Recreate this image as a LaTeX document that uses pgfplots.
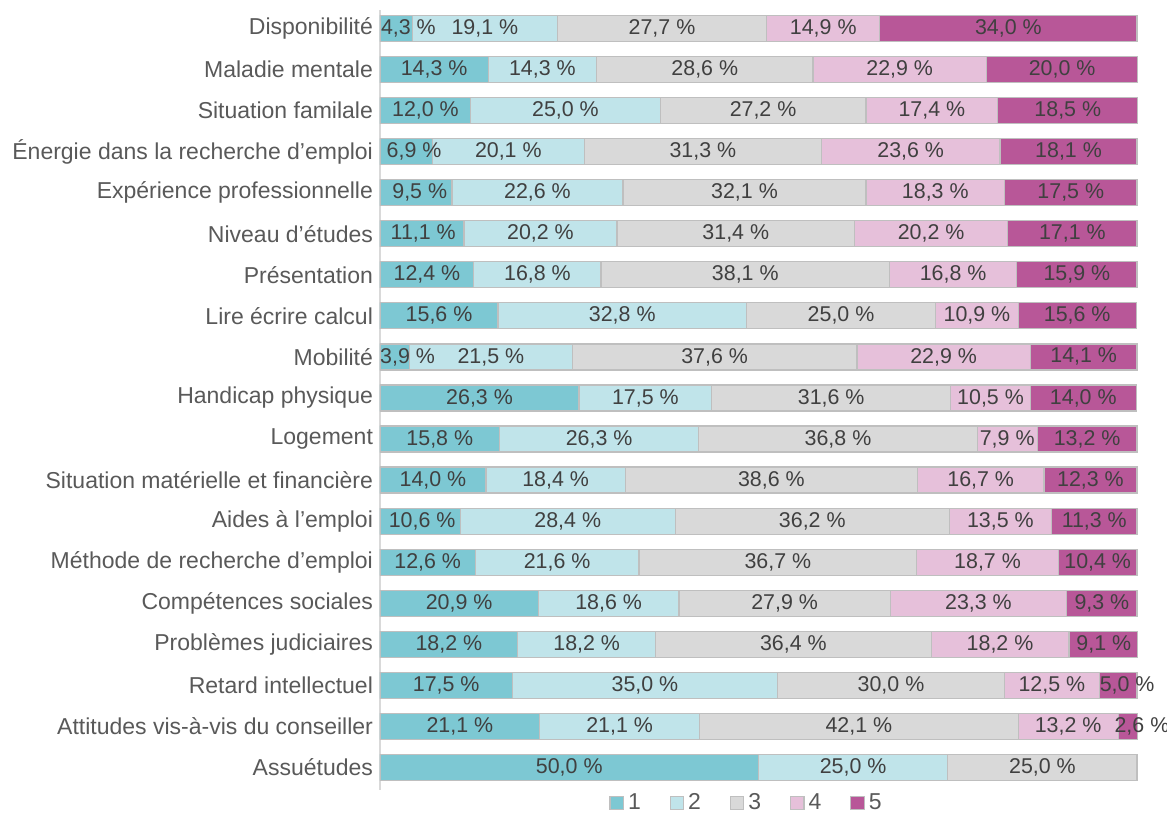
\documentclass[border=0pt]{standalone}
\usepackage{pgfplots}
\usepackage{pgfplotstable}
\pgfplotsset{compat=1.18}
\usepackage{fontspec}
\setmainfont{Liberation Sans}
\definecolor{cA}{HTML}{7DC8D3}
\definecolor{cB}{HTML}{C0E4EA}
\definecolor{cC}{HTML}{D9D9D9}
\definecolor{cD}{HTML}{E6C0DA}
\definecolor{cE}{HTML}{B85798}
\definecolor{bordc}{HTML}{BFBFBF}
\definecolor{txtA}{HTML}{595959}
\definecolor{txtB}{HTML}{404040}
\pgfplotstableread{
a b c d e
4.3 19.1 27.7 14.9 34.0
14.3 14.3 28.6 22.9 20.0
12.0 25.0 27.2 17.4 18.5
6.9 20.1 31.3 23.6 18.1
9.5 22.6 32.1 18.3 17.5
11.1 20.2 31.4 20.2 17.1
12.4 16.8 38.1 16.8 15.9
15.6 32.8 25.0 10.9 15.6
3.9 21.5 37.6 22.9 14.1
26.3 17.5 31.6 10.5 14.0
15.8 26.3 36.8 7.9 13.2
14.0 18.4 38.6 16.7 12.3
10.6 28.4 36.2 13.5 11.3
12.6 21.6 36.7 18.7 10.4
20.9 18.6 27.9 23.3 9.3
18.2 18.2 36.4 18.2 9.1
17.5 35.0 30.0 12.5 5.0
21.1 21.1 42.1 13.2 2.6
50.0 25.0 25.0 0 0
}\data
\pgfplotsset{mylegend/.style={legend image code/.code={\draw[##1,draw=bordc] (0pt,-3.35pt) rectangle (6.7pt,3.35pt);}}}
\begin{document}
\begin{tikzpicture}
\begin{axis}[
  scale only axis, width=378.9pt, height=390pt,
  xbar stacked, bar width=13pt,
  xmin=0, xmax=100.1, ymin=-0.45, ymax=18.55, y dir=reverse,
  ytick={0,...,18},
  yticklabels={Disponibilité,Maladie mentale,Situation familale,Énergie dans la recherche d’emploi,Expérience professionnelle,Niveau d’études,Présentation,Lire écrire calcul,Mobilité,Handicap physique,Logement,Situation matérielle et financière,Aides à l’emploi,Méthode de recherche d’emploi,Compétences sociales,Problèmes judiciaires,Retard intellectuel,Attitudes vis-à-vis du conseiller,Assuétudes},
  xtick=\empty,
  axis x line=none, axis y line*=left,
  y axis line style={draw=cC, line width=0.6pt, -},
  major tick length=0pt,
  yticklabel style={font=\fontsize{11.5}{13}\selectfont, text=txtA},
  point meta=explicit,
  nodes near coords={\pgfmathfloatifflags{\pgfplotspointmeta}{0}{}{\pgfmathprintnumber[fixed,fixed zerofill,precision=1,use comma,assume math mode=true]{\pgfplotspointmeta}~\%}},
  every node near coord/.append style={font=\fontsize{10.7}{12}\selectfont, text=txtB},
  legend style={at={(0.485,-0.0167)}, anchor=center, legend columns=5, draw=none, fill=none, font=\fontsize{11.5}{13}\selectfont, text=txtA,
    /tikz/every even column/.append style={column sep=12.4pt}},
]
\addplot[fill=cA, draw=bordc, line width=0.6pt, mylegend,
  visualization depends on={\thisrow{a}\as\va},
  every node near coord/.append style={xshift={max(0,9.5-0.8*\va)}}]
  table[x=a, y expr=\coordindex, meta=a] {\data};
\addplot[fill=cB, draw=bordc, line width=0.6pt, mylegend] table[x=b, y expr=\coordindex, meta=b] {\data};
\addplot[fill=cC, draw=bordc, line width=0.6pt, mylegend] table[x=c, y expr=\coordindex, meta=c] {\data};
\addplot[fill=cD, draw=bordc, line width=0.6pt, mylegend] table[x=d, y expr=\coordindex, meta=d] {\data};
\addplot[fill=cE, draw=bordc, line width=0.6pt, mylegend,
  visualization depends on={\thisrow{e}\as\ve},
  every node near coord/.append style={xshift={max(0,9.7-1.04*\ve)}}]
  table[x=e, y expr=\coordindex, meta=e] {\data};
\legend{1,2,3,4,5}
\end{axis}
\pgfresetboundingbox
\path (-190pt,-12pt) rectangle (393.5pt,395pt);
\end{tikzpicture}
\end{document}
